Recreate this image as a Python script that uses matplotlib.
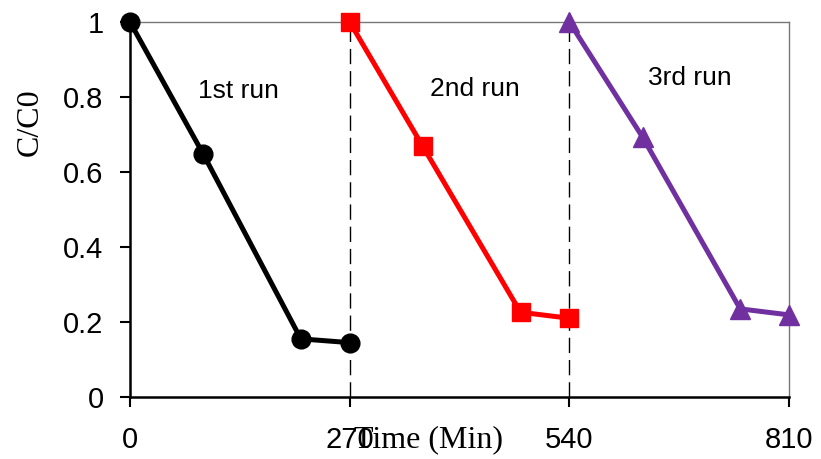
import matplotlib.pyplot as plt

# three consecutive degradation runs, C/C0 vs time
time_run1 = [0, 90, 210, 270]
conc_run1 = [1.0, 0.648, 0.155, 0.145]
time_run2 = [270, 360, 480, 540]
conc_run2 = [1.0, 0.668, 0.226, 0.21]
time_run3 = [540, 630, 750, 810]
conc_run3 = [1.0, 0.693, 0.235, 0.219]

run_labels = ["1st run", "2nd run", "3rd run"]
label_pos = [(133, 0.816), (424, 0.821), (688, 0.851)]

xticks = [0, 270, 540, 810]
yticks = [0, 0.2, 0.4, 0.6, 0.8, 1.0]
yticklabels = ["0", "0.2", "0.4", "0.6", "0.8", "1"]

plt.rcParams['font.family'] = ['Liberation Sans', 'DejaVu Sans']

fig = plt.figure(figsize=(8.21, 4.59), dpi=100)
ax = fig.add_axes([130 / 821, 1 - 397 / 459, 659 / 821, 375 / 459])

for xv in [270, 540]:
    ax.axvline(xv, color='black', lw=1, ls=(0, (11, 5)), zorder=1)

ax.plot(time_run1, conc_run1, color='black', lw=3.6, marker='o', ms=13.5, clip_on=False, zorder=3)
ax.plot(time_run2, conc_run2, color='#ff0000', lw=3.6, marker='s', ms=13.5, clip_on=False, zorder=3)
ax.plot(time_run3, conc_run3, color='#7030a0', lw=3.6, marker='^', ms=14, clip_on=False, zorder=3)

for text, (tx, ty) in zip(run_labels, label_pos):
    ax.text(tx, ty, text, fontsize=19, ha='center', va='center')

ax.set_xlim(0, 810)
ax.set_ylim(0, 1)
ax.set_xticks(xticks)
ax.set_yticks(yticks)
ax.set_yticklabels(yticklabels)
ax.tick_params(labelsize=21, length=7, width=1.5, direction='out')
ax.tick_params(axis='x', pad=14)
ax.tick_params(axis='y', pad=12)

for side in ['left', 'bottom']:
    ax.spines[side].set_linewidth(1.8)
for side in ['top', 'right']:
    ax.spines[side].set_linewidth(1)
    ax.spines[side].set_color('#777777')

fig.text(428 / 821, 1 - 440 / 459, "Time (Min)", family='Liberation Serif', fontsize=23,
         ha='center', va='center')
fig.text(30 / 821, 1 - 122 / 459, "C/C0", family='Liberation Serif', fontsize=23,
         rotation=90, ha='center', va='center')

fig.savefig('out.png', dpi=100)
